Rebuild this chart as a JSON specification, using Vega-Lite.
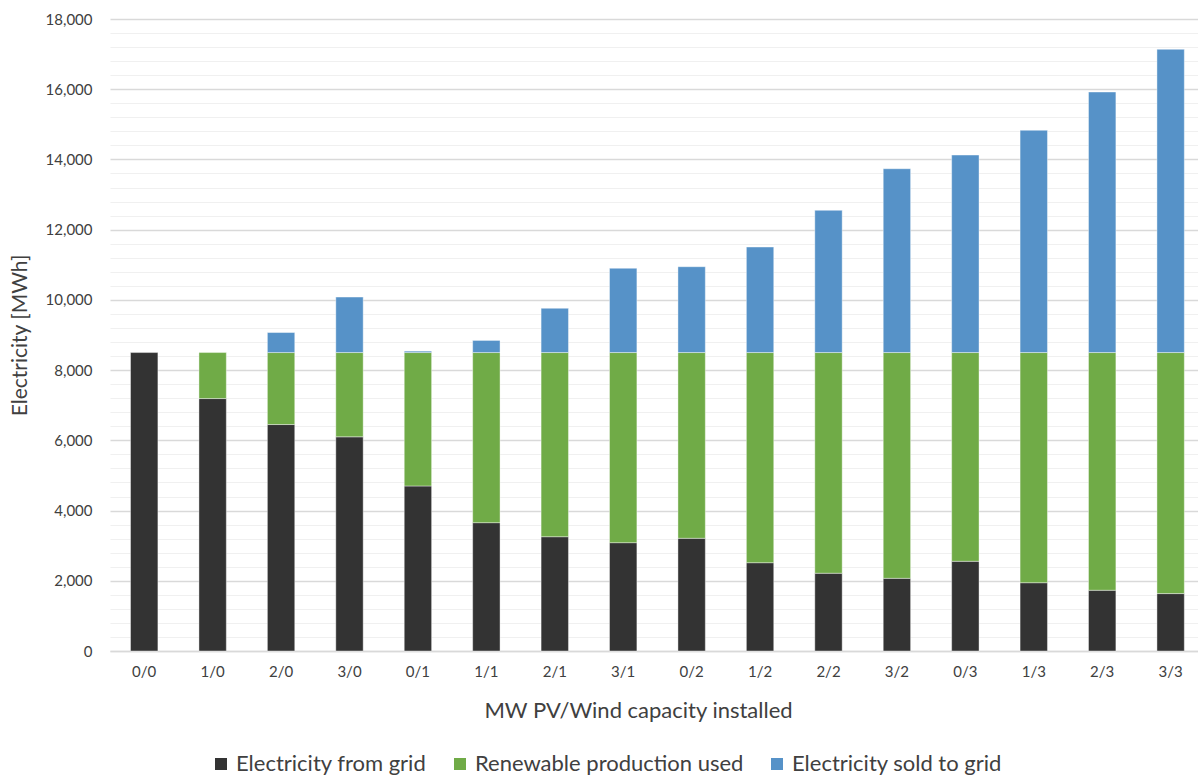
{
  "$schema": "https://vega.github.io/schema/vega-lite/v6.json",
  "autosize": {"type": "none"},
  "padding": {"left": 110, "top": 19, "right": 0, "bottom": 126},
  "width": 1088,
  "height": 632,
  "background": "white",
  "config": {
    "font": "Lato",
    "view": {"stroke": null}
  },
  "data": {
    "values": [
      {"cap": "0/0", "series": "Electricity from grid", "mwh": 8500},
      {"cap": "1/0", "series": "Electricity from grid", "mwh": 7190},
      {"cap": "1/0", "series": "Renewable production used", "mwh": 1310},
      {"cap": "2/0", "series": "Electricity from grid", "mwh": 6450},
      {"cap": "2/0", "series": "Renewable production used", "mwh": 2050},
      {"cap": "2/0", "series": "Electricity sold to grid", "mwh": 570},
      {"cap": "3/0", "series": "Electricity from grid", "mwh": 6100},
      {"cap": "3/0", "series": "Renewable production used", "mwh": 2400},
      {"cap": "3/0", "series": "Electricity sold to grid", "mwh": 1580},
      {"cap": "0/1", "series": "Electricity from grid", "mwh": 4700},
      {"cap": "0/1", "series": "Renewable production used", "mwh": 3800},
      {"cap": "0/1", "series": "Electricity sold to grid", "mwh": 40},
      {"cap": "1/1", "series": "Electricity from grid", "mwh": 3655},
      {"cap": "1/1", "series": "Renewable production used", "mwh": 4845},
      {"cap": "1/1", "series": "Electricity sold to grid", "mwh": 345},
      {"cap": "2/1", "series": "Electricity from grid", "mwh": 3255},
      {"cap": "2/1", "series": "Renewable production used", "mwh": 5245},
      {"cap": "2/1", "series": "Electricity sold to grid", "mwh": 1260},
      {"cap": "3/1", "series": "Electricity from grid", "mwh": 3085},
      {"cap": "3/1", "series": "Renewable production used", "mwh": 5415},
      {"cap": "3/1", "series": "Electricity sold to grid", "mwh": 2400},
      {"cap": "0/2", "series": "Electricity from grid", "mwh": 3210},
      {"cap": "0/2", "series": "Renewable production used", "mwh": 5290},
      {"cap": "0/2", "series": "Electricity sold to grid", "mwh": 2445},
      {"cap": "1/2", "series": "Electricity from grid", "mwh": 2515},
      {"cap": "1/2", "series": "Renewable production used", "mwh": 5985},
      {"cap": "1/2", "series": "Electricity sold to grid", "mwh": 3005},
      {"cap": "2/2", "series": "Electricity from grid", "mwh": 2215},
      {"cap": "2/2", "series": "Renewable production used", "mwh": 6285},
      {"cap": "2/2", "series": "Electricity sold to grid", "mwh": 4050},
      {"cap": "3/2", "series": "Electricity from grid", "mwh": 2070},
      {"cap": "3/2", "series": "Renewable production used", "mwh": 6430},
      {"cap": "3/2", "series": "Electricity sold to grid", "mwh": 5235},
      {"cap": "0/3", "series": "Electricity from grid", "mwh": 2555},
      {"cap": "0/3", "series": "Renewable production used", "mwh": 5945},
      {"cap": "0/3", "series": "Electricity sold to grid", "mwh": 5625},
      {"cap": "1/3", "series": "Electricity from grid", "mwh": 1945},
      {"cap": "1/3", "series": "Renewable production used", "mwh": 6555},
      {"cap": "1/3", "series": "Electricity sold to grid", "mwh": 6330},
      {"cap": "2/3", "series": "Electricity from grid", "mwh": 1730},
      {"cap": "2/3", "series": "Renewable production used", "mwh": 6770},
      {"cap": "2/3", "series": "Electricity sold to grid", "mwh": 7420},
      {"cap": "3/3", "series": "Electricity from grid", "mwh": 1635},
      {"cap": "3/3", "series": "Renewable production used", "mwh": 6865},
      {"cap": "3/3", "series": "Electricity sold to grid", "mwh": 8635}
    ]
  },
  "transform": [
    {"calculate": "indexof(['Electricity from grid', 'Renewable production used', 'Electricity sold to grid'], datum.series)", "as": "stackOrder"}
  ],
  "mark": {"type": "bar", "stroke": "white", "strokeWidth": 0.8, "strokeOpacity": 0.5},
  "encoding": {
    "x": {
      "field": "cap",
      "type": "nominal",
      "sort": null,
      "scale": {"paddingInner": 0.6, "paddingOuter": 0.25, "align": 0.6},
      "axis": {
        "title": "MW PV/Wind capacity installed",
        "titleFont": "Lato",
        "titleFontSize": 22,
        "titleFontWeight": "normal",
        "titleColor": "#404040",
        "titleX": 528,
        "titleY": 59,
        "titleBaseline": "middle",
        "titleAlign": "center",
        "labelAngle": 0,
        "labelFontSize": 15,
        "labelColor": "#404040",
        "labelPadding": 13,
        "ticks": false,
        "domainColor": "#d9d9d9",
        "domainWidth": 1.5
      }
    },
    "y": {
      "field": "mwh",
      "type": "quantitative",
      "aggregate": "sum",
      "stack": "zero",
      "scale": {"domain": [0, 18000], "nice": false},
      "axis": {
        "title": "Electricity [MWh]",
        "titleFont": "Lato",
        "titleFontSize": 21,
        "titleFontWeight": "normal",
        "titleColor": "#404040",
        "titleAngle": 270,
        "titleX": -90,
        "titleY": 316,
        "titleAlign": "center",
        "titleBaseline": "middle",
        "values": [0, 400, 800, 1200, 1600, 2000, 2400, 2800, 3200, 3600, 4000, 4400, 4800, 5200, 5600, 6000, 6400, 6800, 7200, 7600, 8000, 8400, 8800, 9200, 9600, 10000, 10400, 10800, 11200, 11600, 12000, 12400, 12800, 13200, 13600, 14000, 14400, 14800, 15200, 15600, 16000, 16400, 16800, 17200, 17600, 18000],
        "labelExpr": "datum.value % 2000 === 0 ? format(datum.value, ',') : ''",
        "labelOverlap": false,
        "labelFontSize": 15,
        "labelColor": "#404040",
        "labelPadding": 18,
        "ticks": false,
        "domain": false,
        "grid": true,
        "gridColor": {"condition": {"test": "datum.value % 2000 === 0", "value": "#d9d9d9"}, "value": "#f0f0f0"},
        "gridWidth": {"condition": {"test": "datum.value % 2000 === 0", "value": 1.5}, "value": 1.2}
      }
    },
    "color": {
      "field": "series",
      "type": "nominal",
      "scale": {
        "domain": ["Electricity from grid", "Renewable production used", "Electricity sold to grid"],
        "range": ["#333333", "#70ab47", "#5692c8"]
      },
      "legend": {
        "title": null,
        "orient": "none",
        "direction": "horizontal",
        "legendX": 100,
        "legendY": 734,
        "padding": 0,
        "symbolType": "square",
        "symbolSize": 144,
        "symbolStrokeWidth": 0,
        "labelFontSize": 22,
        "labelLimit": 0,
        "labelColor": "#404040",
        "labelOffset": 4,
        "columnPadding": 22
      }
    },
    "order": {"field": "stackOrder", "type": "quantitative", "sort": "ascending"}
  }
}
